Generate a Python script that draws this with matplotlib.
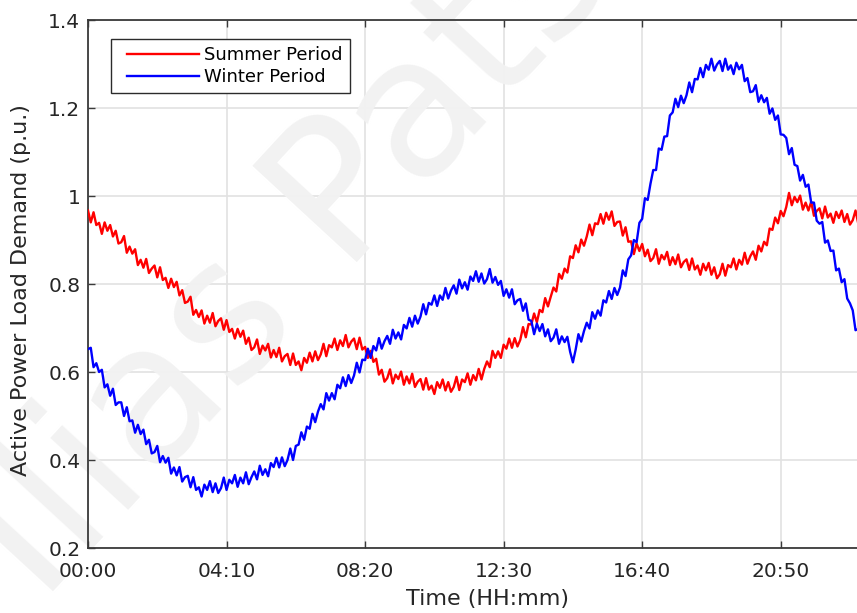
import numpy as np
import matplotlib
matplotlib.use("Agg")
import matplotlib.pyplot as plt
from matplotlib.legend_handler import HandlerLine2D

# Daily active power load profiles, sampled every 5 minutes (p.u.)
minutes = np.arange(0, 1400, 5)

summer = [
    0.967, 0.940, 0.963, 0.934, 0.939, 0.914, 0.940, 0.921, 0.934, 0.908, 0.921, 0.892,
    0.895, 0.909, 0.871, 0.885, 0.869, 0.879, 0.843, 0.855, 0.837, 0.857, 0.825, 0.835,
    0.842, 0.815, 0.838, 0.809, 0.814, 0.791, 0.812, 0.793, 0.805, 0.774, 0.786, 0.757,
    0.760, 0.771, 0.730, 0.741, 0.725, 0.740, 0.710, 0.728, 0.712, 0.734, 0.704, 0.716,
    0.722, 0.696, 0.718, 0.691, 0.698, 0.676, 0.698, 0.680, 0.694, 0.664, 0.678, 0.650,
    0.656, 0.674, 0.641, 0.660, 0.649, 0.664, 0.633, 0.650, 0.634, 0.655, 0.624, 0.636,
    0.641, 0.616, 0.642, 0.616, 0.624, 0.604, 0.632, 0.621, 0.644, 0.624, 0.647, 0.627,
    0.640, 0.664, 0.636, 0.661, 0.656, 0.676, 0.650, 0.672, 0.659, 0.684, 0.656, 0.669,
    0.676, 0.652, 0.678, 0.651, 0.657, 0.632, 0.648, 0.623, 0.630, 0.594, 0.605, 0.578,
    0.586, 0.606, 0.574, 0.594, 0.584, 0.601, 0.571, 0.590, 0.574, 0.596, 0.566, 0.578,
    0.584, 0.560, 0.586, 0.560, 0.569, 0.550, 0.577, 0.564, 0.583, 0.558, 0.577, 0.555,
    0.566, 0.589, 0.559, 0.583, 0.577, 0.597, 0.571, 0.593, 0.581, 0.607, 0.583, 0.607,
    0.624, 0.611, 0.648, 0.632, 0.647, 0.632, 0.662, 0.653, 0.676, 0.655, 0.677, 0.658,
    0.673, 0.702, 0.679, 0.709, 0.708, 0.733, 0.713, 0.741, 0.736, 0.768, 0.749, 0.771,
    0.792, 0.783, 0.823, 0.812, 0.835, 0.826, 0.863, 0.859, 0.888, 0.872, 0.901, 0.887,
    0.908, 0.935, 0.911, 0.938, 0.936, 0.959, 0.937, 0.962, 0.946, 0.965, 0.932, 0.941,
    0.942, 0.910, 0.929, 0.896, 0.897, 0.868, 0.892, 0.875, 0.891, 0.863, 0.878, 0.852,
    0.859, 0.879, 0.846, 0.866, 0.856, 0.873, 0.843, 0.861, 0.845, 0.867, 0.838, 0.850,
    0.856, 0.832, 0.858, 0.833, 0.842, 0.821, 0.846, 0.831, 0.848, 0.821, 0.838, 0.813,
    0.822, 0.846, 0.819, 0.843, 0.838, 0.858, 0.833, 0.855, 0.844, 0.871, 0.846, 0.863,
    0.874, 0.855, 0.887, 0.874, 0.896, 0.888, 0.926, 0.923, 0.951, 0.938, 0.966, 0.954,
    0.975, 1.007, 0.979, 0.998, 0.986, 1.001, 0.969, 0.985, 0.967, 0.987, 0.955, 0.966,
    0.972, 0.949, 0.976, 0.951, 0.960, 0.939, 0.964, 0.950, 0.967, 0.941, 0.959, 0.935,
    0.945, 0.967, 0.937, 0.959,
]

winter = [
    0.652, 0.655, 0.611, 0.620, 0.600, 0.605, 0.565, 0.572, 0.546, 0.562, 0.525, 0.531,
    0.531, 0.500, 0.520, 0.488, 0.490, 0.462, 0.480, 0.459, 0.469, 0.436, 0.446, 0.415,
    0.418, 0.432, 0.395, 0.409, 0.394, 0.405, 0.369, 0.383, 0.365, 0.384, 0.351, 0.361,
    0.364, 0.338, 0.361, 0.332, 0.338, 0.317, 0.344, 0.332, 0.352, 0.327, 0.347, 0.325,
    0.336, 0.360, 0.332, 0.355, 0.347, 0.366, 0.339, 0.360, 0.347, 0.372, 0.345, 0.361,
    0.374, 0.356, 0.387, 0.366, 0.379, 0.363, 0.393, 0.384, 0.405, 0.383, 0.406, 0.386,
    0.400, 0.426, 0.400, 0.432, 0.435, 0.463, 0.446, 0.476, 0.471, 0.505, 0.486, 0.510,
    0.527, 0.515, 0.552, 0.535, 0.552, 0.538, 0.571, 0.563, 0.588, 0.568, 0.593, 0.575,
    0.592, 0.621, 0.599, 0.628, 0.627, 0.653, 0.632, 0.659, 0.649, 0.677, 0.653, 0.670,
    0.682, 0.664, 0.696, 0.676, 0.690, 0.674, 0.707, 0.699, 0.723, 0.703, 0.728, 0.710,
    0.726, 0.754, 0.731, 0.757, 0.753, 0.774, 0.750, 0.774, 0.764, 0.791, 0.767, 0.785,
    0.797, 0.778, 0.810, 0.790, 0.804, 0.787, 0.817, 0.807, 0.829, 0.805, 0.824, 0.801,
    0.811, 0.834, 0.803, 0.816, 0.798, 0.807, 0.773, 0.788, 0.769, 0.788, 0.754, 0.763,
    0.766, 0.739, 0.756, 0.719, 0.716, 0.686, 0.710, 0.693, 0.709, 0.681, 0.697, 0.670,
    0.678, 0.697, 0.664, 0.681, 0.668, 0.680, 0.646, 0.622, 0.651, 0.686, 0.669, 0.693,
    0.712, 0.699, 0.736, 0.721, 0.740, 0.728, 0.763, 0.758, 0.784, 0.766, 0.791, 0.775,
    0.792, 0.831, 0.818, 0.856, 0.865, 0.900, 0.895, 0.939, 0.948, 0.995, 0.991, 1.028,
    1.059, 1.059, 1.108, 1.105, 1.135, 1.136, 1.183, 1.190, 1.221, 1.202, 1.228, 1.211,
    1.229, 1.258, 1.236, 1.266, 1.265, 1.291, 1.270, 1.298, 1.287, 1.312, 1.285, 1.299,
    1.307, 1.284, 1.312, 1.287, 1.297, 1.277, 1.303, 1.288, 1.298, 1.261, 1.268, 1.236,
    1.238, 1.252, 1.214, 1.229, 1.213, 1.223, 1.187, 1.199, 1.173, 1.183, 1.140, 1.139,
    1.132, 1.095, 1.109, 1.071, 1.068, 1.035, 1.048, 1.021, 1.026, 0.985, 0.985, 0.944,
    0.937, 0.941, 0.894, 0.899, 0.875, 0.876, 0.831, 0.835, 0.804, 0.811, 0.767, 0.756,
    0.740, 0.695, 0.698, 0.650,
]

tick_minutes = [0, 250, 500, 750, 1000, 1250]
tick_labels = ["00:00", "04:10", "08:20", "12:30", "16:40", "20:50"]
y_ticks = [0.2, 0.4, 0.6, 0.8, 1.0, 1.2, 1.4]
y_tick_labels = ["0.2", "0.4", "0.6", "0.8", "1", "1.2", "1.4"]

W, H = 857, 613
fig = plt.figure(figsize=(W / 100, H / 100), dpi=100)
fig.patch.set_facecolor("white")
# full-day axis; its right end runs past the canvas edge
ax = fig.add_axes([88 / W, 65 / H, 798 / W, 528 / H])

ax.plot(minutes, summer, color="#ff0000", lw=1.7, label="Summer Period", zorder=3)
ax.plot(minutes, winter, color="#0000ff", lw=1.7, label="Winter Period", zorder=3)

ax.set_xlim(0, 1440)
ax.set_ylim(0.2, 1.4)
ax.set_xticks(tick_minutes)
ax.set_xticklabels(tick_labels)
ax.set_yticks(y_ticks)
ax.set_yticklabels(y_tick_labels)

# grid lines kept underneath everything else
grid_kw = dict(color="#e2e2e2", lw=1.2, zorder=0.4)
for v in y_ticks:
    ax.axhline(v, **grid_kw)
for m in tick_minutes:
    ax.axvline(m, **grid_kw)

for s in ax.spines.values():
    s.set_color("#3a3a3a")
    s.set_linewidth(1.3)

ax.tick_params(direction="in", length=5, width=1.0, color="#3a3a3a",
               labelcolor="#262626", labelsize=14.5, top=True, right=True)
ax.tick_params(axis="x", pad=10)
ax.tick_params(axis="y", pad=5.5)

ax.set_xlabel("Time (HH:mm)", fontsize=16, color="#262626")
ax.set_ylabel("Active Power Load Demand (p.u.)", fontsize=16, color="#262626")
ax.xaxis.set_label_coords(0.5, -0.077)
ax.yaxis.set_label_coords(-0.071, 0.489)


class InsetLine(HandlerLine2D):
    """Legend line that starts a little to the right of the handle box."""

    def __init__(self, inset, **kw):
        super().__init__(**kw)
        self.inset = inset

    def create_artists(self, legend, orig_handle, xdescent, ydescent,
                       width, height, fontsize, trans):
        return super().create_artists(legend, orig_handle, xdescent - self.inset,
                                      ydescent, width - self.inset, height,
                                      fontsize, trans)


lines = ax.get_lines()[:2]
leg = ax.legend(handles=lines, loc="upper left", bbox_to_anchor=(0.0288, 0.964),
                borderaxespad=0, fontsize=13, handlelength=4.5, handletextpad=0.28,
                labelspacing=0.23, borderpad=0.38, fancybox=False, framealpha=1,
                edgecolor="#2b2b2b",
                handler_map={l: InsetLine(6.5) for l in lines})
leg.get_frame().set_linewidth(1.0)
leg.set_zorder(5)

# faint author watermark across the plot
ax.text(41 / W, 1 - 605 / H, "Ilias Pats", transform=fig.transFigure,
        rotation=47.3, rotation_mode="anchor", ha="left", va="baseline",
        fontsize=140, color="#f2f2f2", zorder=1, clip_on=False)

fig.savefig("out.png", dpi=100)
